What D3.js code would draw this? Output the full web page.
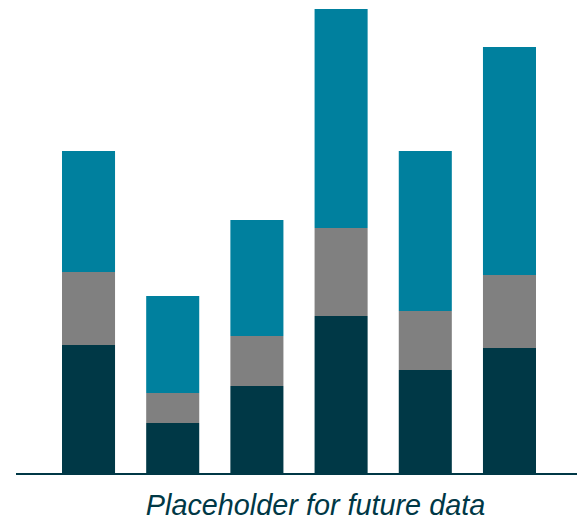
<!DOCTYPE html>
<html>
<head>
<meta charset="utf-8">
<script src="https://cdn.jsdelivr.net/npm/d3@7"></script>
<style>
  html, body { margin: 0; padding: 0; background: #ffffff; }
  svg { display: block; }
</style>
</head>
<body>
<div id="chart"></div>
<script>
const categories = ["A", "B", "C", "D", "E", "F"];
const seriesNames = ["base", "middle", "top"];
const baseValues = [128, 50, 87, 157, 103, 125];
const middleValues = [73, 30, 50, 88, 59, 73];
const topValues = [121, 97, 116, 219, 160, 228];
const xLabel = "Placeholder for future data";

const colors = { base: "#003846", middle: "#808080", top: "#00809e" };

const width = 577, height = 521;
const svg = d3.select("#chart").append("svg")
  .attr("width", width).attr("height", height);

const rows = categories.map((c, i) => ({
  cat: c, base: baseValues[i], middle: middleValues[i], top: topValues[i]
}));
const stack = d3.stack().keys(seriesNames)(rows);

const x = d3.scaleBand().domain(categories).range([62, 536]).paddingInner(0.37).paddingOuter(0);
const y = d3.scaleLinear().domain([0, 464]).range([473, 9]);

svg.append("g").selectAll("g").data(stack).join("g")
  .attr("fill", d => colors[d.key])
  .selectAll("rect").data(d => d).join("rect")
  .attr("x", d => x(d.data.cat))
  .attr("width", x.bandwidth())
  .attr("y", d => y(d[1]))
  .attr("height", d => y(d[0]) - y(d[1]));

svg.append("line")
  .attr("x1", 16).attr("x2", width)
  .attr("y1", y(0) + 1).attr("y2", y(0) + 1)
  .attr("stroke", "#003846").attr("stroke-width", 2);

svg.append("text")
  .attr("x", 315.5).attr("y", 515)
  .attr("text-anchor", "middle")
  .attr("font-family", "'Liberation Sans', Arial, sans-serif")
  .attr("font-style", "italic")
  .attr("font-size", 28.8)
  .attr("fill", "#003846")
  .text(xLabel);
</script>
</body>
</html>
